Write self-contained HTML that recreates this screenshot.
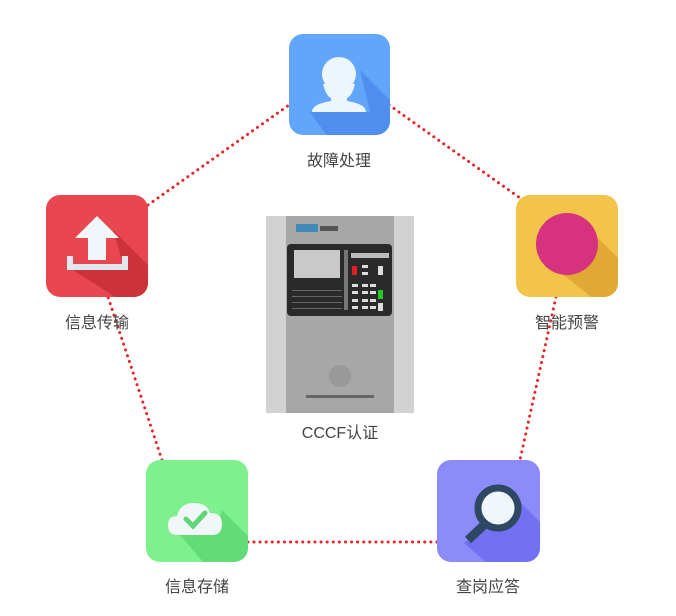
<!DOCTYPE html>
<html><head><meta charset="utf-8"><style>
body{margin:0;width:676px;height:616px;background:#fff;overflow:hidden;position:relative;font-family:"Liberation Sans","Noto Sans CJK SC",sans-serif}
.lbl{position:absolute;font-size:16px;color:#444;text-align:center;width:140px}
</style></head><body>
<svg width="676" height="616" style="position:absolute;left:0;top:0">
<defs>
<clipPath id="c1"><rect x="289" y="34" width="101" height="101" rx="14"/></clipPath>
<clipPath id="c2"><rect x="46" y="195" width="102" height="102" rx="14"/></clipPath>
<clipPath id="c3"><rect x="516" y="195" width="102" height="102" rx="14"/></clipPath>
<clipPath id="c4"><rect x="146" y="460" width="102" height="102" rx="14"/></clipPath>
<clipPath id="c5"><rect x="437" y="460" width="103" height="102" rx="14"/></clipPath>
</defs>
<g stroke="#e8252a" stroke-width="3" stroke-dasharray="0.1 6" stroke-linecap="round" fill="none">
<line x1="148" y1="205" x2="289" y2="105"/>
<line x1="389" y1="105" x2="520" y2="198"/>
<line x1="556" y1="297" x2="520" y2="460"/>
<line x1="437" y1="542" x2="247" y2="542"/>
<line x1="162" y1="460" x2="108" y2="297"/>
</g>
<rect x="289" y="34" width="101" height="101" rx="14" fill="#62a6fb"/>
<polygon clip-path="url(#c1)" points="360,70 400,110 400,140 330,140 310,112 370,112" fill="#4f8ff0"/>
<circle cx="339" cy="74" r="17" fill="#eef6fd"/>
<path d="M323,84 Q326,96 331,98 L331,101 Q312,104 312,112 L366,112 Q366,104 347,101 L347,98 Q352,96 355,84 Z" fill="#eef6fd"/>
<rect x="46" y="195" width="102" height="102" rx="14" fill="#e8474f"/>
<polygon clip-path="url(#c2)" points="113,230 160,277 160,300 120,300 73,270 125,270" fill="#cd3238"/>
<polygon points="97,216 119,238 106,238 106,260 88,260 88,238 75,238" fill="#f1f6fa"/>
<polygon points="67,256 73,256 73,264 122,264 122,256 128,256 128,270 67,270" fill="#dfe8ee"/>
<rect x="516" y="195" width="102" height="102" rx="14" fill="#f2c44a"/>
<polygon clip-path="url(#c3)" points="585,225 630,270 630,300 595,300 545,260 580,265" fill="#dfa934"/>
<circle cx="567" cy="244" r="31" fill="#d6327f"/>
<rect x="146" y="460" width="102" height="102" rx="14" fill="#7ef08e"/>
<polygon clip-path="url(#c4)" points="222,510 260,548 260,570 210,570 180,535 215,535" fill="#63dc78"/>
<path d="M177,535 Q168,535 168,525 Q168,516 177,516 Q180,503 194,503 Q207,503 210,513 Q222,513 222,524 Q222,535 212,535 Z" fill="#f0f7f6"/>
<polyline points="186,519 193,526 205,513" stroke="#5fd679" stroke-width="5" fill="none" stroke-linecap="round"/>
<rect x="437" y="460" width="103" height="102" rx="14" fill="#8b8bfa"/>
<polygon clip-path="url(#c5)" points="510,492 550,532 550,570 495,570 464,543 480,530" fill="#7171f2"/>
<line x1="468" y1="540" x2="484" y2="525" stroke="#2e4763" stroke-width="9" stroke-linecap="butt"/>
<circle cx="498" cy="508" r="20" fill="#f0f7fb" stroke="#2e4763" stroke-width="7"/>
<rect x="266" y="216" width="148" height="197" fill="#d2d2d2"/>
<rect x="286" y="216" width="108" height="197" fill="#a7a7a7"/>
<rect x="296" y="224" width="22" height="8" fill="#3e8ab8"/>
<rect x="320" y="226" width="18" height="5" fill="#555"/>
<rect x="287" y="244" width="105" height="72" rx="4" fill="#2a2a2a"/>
<rect x="294" y="250" width="46" height="28" fill="#c9c9c9"/>
<rect x="344" y="250" width="4" height="60" fill="#777"/>
<rect x="351" y="253" width="38" height="5" fill="#bbb"/>
<rect x="352" y="266" width="5" height="9" fill="#e02020"/>
<rect x="378" y="290" width="5" height="9" fill="#28c828"/>
<g fill="#ddd"><rect x="362" y="265" width="6" height="3"/><rect x="362" y="272" width="6" height="3"/><rect x="352" y="284" width="6" height="3"/><rect x="362" y="284" width="6" height="3"/><rect x="370" y="284" width="6" height="3"/><rect x="352" y="291" width="6" height="3"/><rect x="362" y="291" width="6" height="3"/><rect x="370" y="291" width="6" height="3"/><rect x="352" y="299" width="6" height="3"/><rect x="362" y="299" width="6" height="3"/><rect x="370" y="299" width="6" height="3"/><rect x="352" y="306" width="6" height="3"/><rect x="362" y="306" width="6" height="3"/><rect x="370" y="306" width="6" height="3"/><rect x="378" y="266" width="5" height="9"/><rect x="378" y="303" width="5" height="8"/></g>
<g fill="#666"><rect x="292" y="290" width="50" height="1"/><rect x="292" y="296" width="50" height="1"/><rect x="292" y="302" width="50" height="1"/><rect x="292" y="308" width="50" height="1"/></g>
<circle cx="340" cy="376" r="11" fill="#999"/>
<rect x="306" y="395" width="68" height="3" fill="#666"/>
</svg>
<div class="lbl" style="left:269px;top:147px">故障处理</div>
<div class="lbl" style="left:27px;top:309px">信息传输</div>
<div class="lbl" style="left:497px;top:309px">智能预警</div>
<div class="lbl" style="left:127px;top:573px">信息存储</div>
<div class="lbl" style="left:418px;top:573px">查岗应答</div>
<div class="lbl" style="left:270px;top:419px">CCCF认证</div>
</body></html>
